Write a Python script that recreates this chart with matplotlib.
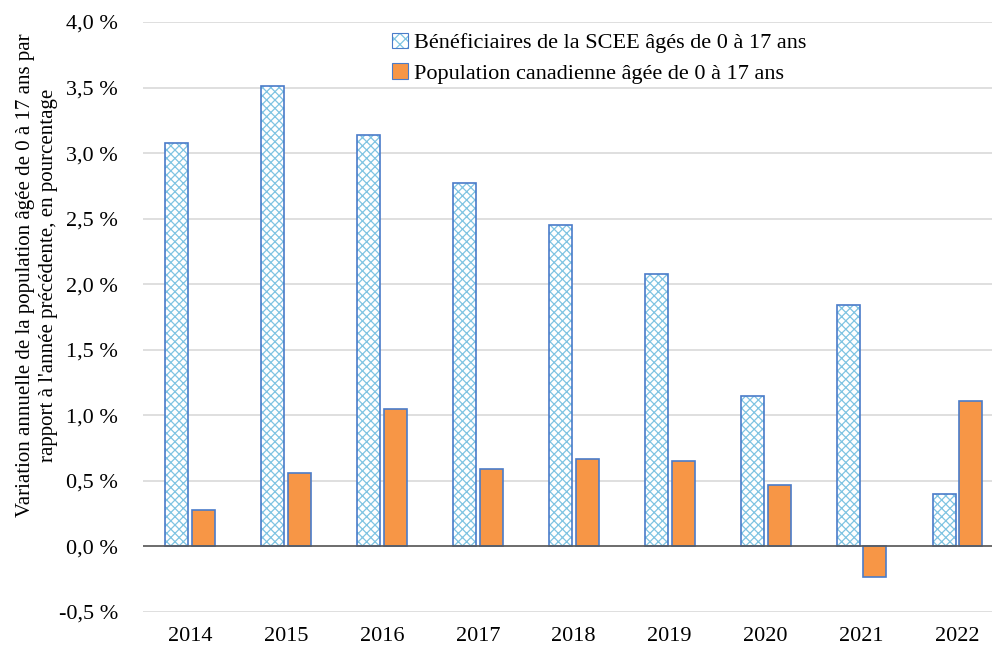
import matplotlib.pyplot as plt
import numpy as np

years = ["2014", "2015", "2016", "2017", "2018", "2019", "2020", "2021", "2022"]
scee = [3.08, 3.51, 3.14, 2.77, 2.45, 2.08, 1.15, 1.84, 0.40]
canada = [0.28, 0.56, 1.05, 0.59, 0.67, 0.65, 0.47, -0.23, 1.11]

plt.rcParams['font.family'] = ['Liberation Serif', 'DejaVu Serif']
plt.rcParams['hatch.linewidth'] = 0.9

fig = plt.figure(figsize=(9.92, 6.45), dpi=100)
ax = fig.add_axes([143 / 992, 33 / 645, 849 / 992, 590 / 645])

x = np.arange(len(years))
w = 0.24
off = 0.14

# hatched bars: hatch in light blue, outline in darker blue
ax.bar(x - off, scee, w, color="white", edgecolor="#7fc4e2", hatch="xxxx",
       linewidth=0, zorder=3)
ax.bar(x - off, scee, w, fill=False, edgecolor="#4a7cc9", linewidth=1.2, zorder=4)
ax.bar(x + off, canada, w, color="#f79646", edgecolor="#4a7cc9", linewidth=1.2,
       zorder=3)

# legend proxies
h1 = plt.Rectangle((0, 0), 1, 1, facecolor="white", edgecolor="#7fc4e2", hatch="xxx",
                   linewidth=0)
h1b = plt.Rectangle((0, 0), 1, 1, fill=False, edgecolor="#4a7cc9", linewidth=0.8)
h2 = plt.Rectangle((0, 0), 1, 1, facecolor="#f79646", edgecolor="#4a7cc9", linewidth=0.8)
ax.legend([(h1, h1b), h2], ["Bénéficiaires de la SCEE âgés de 0 à 17 ans",
                            "Population canadienne âgée de 0 à 17 ans"],
          loc="upper left", bbox_to_anchor=(0.27, 1.016), frameon=False,
          fontsize=16, handlelength=0.7, handleheight=0.7, handletextpad=0.3,
          labelspacing=0.45)

ax.set_ylim(-0.5, 4.0)
ax.set_xlim(-0.49, 8.36)
yt = np.arange(-0.5, 4.01, 0.5)
ax.set_yticks(yt)
ax.set_yticklabels([("%.1f %%" % v).replace(".", ",") for v in yt], fontsize=16)
ax.set_xticks(x)
ax.set_xticklabels(years, fontsize=16)
ax.tick_params(length=0, pad=11)
ax.tick_params(axis="y", pad=18)

ax.grid(axis="y", color="#d9d9d9", linewidth=1.2, zorder=0)
ax.axhline(0, color="#595959", linewidth=1.2, zorder=5)
for s in ax.spines.values():
    s.set_visible(False)

ax.set_ylabel("Variation annuelle de la population âgée de 0 à 17 ans par\n"
              "rapport à l'année précédente, en pourcentage", fontsize=15,
              linespacing=1.3)
ax.yaxis.set_label_coords(-0.1, 0.571)

plt.savefig("out.png", dpi=100)
